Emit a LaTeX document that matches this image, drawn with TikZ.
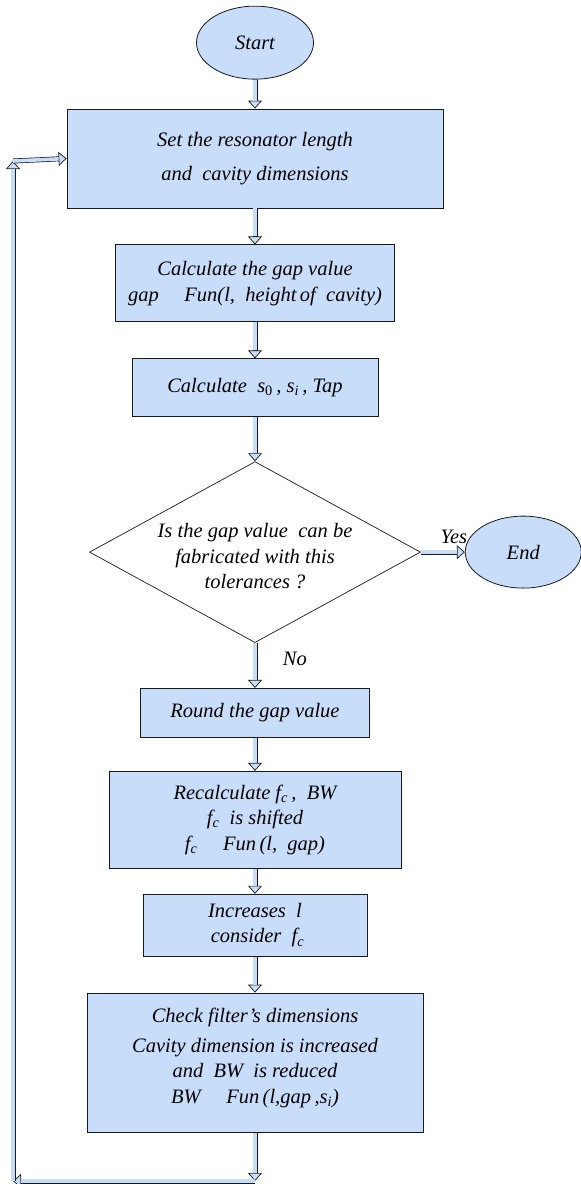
\documentclass[tikz,border=0pt]{standalone}
\usepackage{fontspec}
\setmainfont{Liberation Serif}
\usepackage{tikz}
\usetikzlibrary{arrows.meta,positioning,shapes.geometric}
\definecolor{paleblue}{HTML}{C8DDFA}
\definecolor{edge}{HTML}{1A1A1A}

\begin{document}
\begin{tikzpicture}[x=1pt,y=-1pt,
  node distance=37pt,
  txt/.style={font=\itshape\fontsize{20.5}{25.5}\selectfont},
  box/.style={txt,draw=edge,line width=0.9pt,fill=paleblue,align=center,inner sep=0pt},
  term/.style={txt,ellipse,draw=edge,line width=0.8pt,fill=paleblue,inner sep=0pt},
  decision/.style={diamond,draw=edge,line width=0.7pt,inner sep=0pt,minimum width=331pt,minimum height=181pt},
  flow/.style={draw=edge,line width=5pt,-{Triangle[length=8pt,width=14pt,line width=0.7pt,fill=paleblue]},
    postaction={draw=paleblue,line width=3.6pt,-,shorten >=8pt}}
]
\useasboundingbox (0,0) rectangle (581,1184);

\node[box,minimum width=376pt,minimum height=99pt] (set) at (255,158.5) {Set the resonator length\\[9pt] and \ cavity dimensions};
\node[term,minimum width=117pt,minimum height=73pt,above=29pt of set] (start) {Start};
\node[box,minimum width=279pt,minimum height=77pt,below=36pt of set] (gap) {Calculate the gap value\\ gap \quad Fun(l, \ height\,of \ cavity)};
\node[box,minimum width=246pt,minimum height=58pt,below=36pt of gap] (calc) {Calculate \ s\textsubscript{\upshape 0}\,, s\textsubscript{i}\,, Tap};
\node[decision,below=44pt of calc] (check) {};
\node[txt,align=center,yshift=-4pt] (checktxt) at (check) {Is the gap value \ can be\\ fabricated with this\\ tolerances ?};
\node[term,minimum width=116pt,minimum height=72pt,right=44pt of check] (end) {End};
\node[box,minimum width=229pt,minimum height=49pt,below=45pt of check] (round) {Round the gap value};
\node[box,minimum width=292pt,minimum height=97pt,below=33pt of round] (recalc) {Recalculate f\textsubscript{c}\,, \ BW\\ f\textsubscript{c} \ is shifted\\ f\textsubscript{c} \quad Fun\,(l, \ gap)};
\node[box,minimum width=224pt,minimum height=62pt,below=25pt of recalc] (incr) {Increases \ l\\ \ consider \ f\textsubscript{c}};
\node[box,minimum width=336pt,minimum height=139pt,below=36pt of incr] (dims) {Check filter's dimensions\\[4pt] Cavity dimension is increased\\ and \ BW \ is reduced\\ BW \quad Fun\,(l,gap\,,s\textsubscript{i})\\[-12pt]\mbox{}};

% loop back to the top
\coordinate (loopB) at (13,1181);
\coordinate (loopC) at (13,161);
\coordinate (loopA) at (dims.south |- loopB);

\draw[flow] (start) -- (set);
\draw[flow] (set) -- (gap);
\draw[flow] (gap) -- (calc);
\draw[flow] (calc) -- (check);
\draw[flow] (check) -- node[txt,above=3pt,pos=0.75] (yes) {Yes} (end);
\draw[flow] (check) -- node[txt,right=22pt,pos=0.35] (no) {No} (round);
\draw[flow] (round) -- (recalc);
\draw[flow] (recalc) -- (incr);
\draw[flow] (incr) -- (dims);
\draw[flow] (dims) -- (loopA);
\draw[flow] (loopA) -- (loopB);
\draw[flow] (loopB) -- (loopC);
\draw[flow] (loopC) -- (set.west);
\end{tikzpicture}
\end{document}
